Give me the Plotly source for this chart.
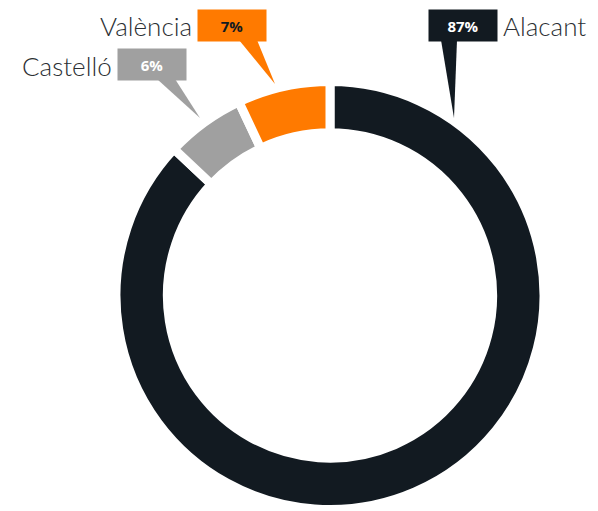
import plotly.graph_objects as go

categories = ["Alacant", "Castelló", "València"]
values = [87, 6, 7]
colors = ["#121a21", "#a0a0a0", "#ff7a00"]
pct_labels = ["87%", "6%", "7%"]
pct_text_colors = ["#ffffff", "#ffffff", "#121a21"]

W, H = 598, 511

def px(x):
    return x / W

def py(y):
    return 1 - y / H

fig = go.Figure()
fig.add_trace(go.Pie(
    labels=categories,
    values=values,
    sort=False,
    direction="clockwise",
    rotation=0,
    hole=0.76,
    marker=dict(colors=colors, line=dict(color="#ffffff", width=9)),
    textinfo="none",
    hoverinfo="label+percent",
    showlegend=False,
    domain=dict(x=[px(116), px(544)], y=[py(511), py(80)]),
))

# callout boxes: (box left, box top, pointer base x0, x1, tip x, tip y, name side)
callouts = [
    (429, 10, 441, 457, 454, 118, "right"),
    (118, 49, 157, 175, 200, 118, "left"),
    (198, 10, 239, 257, 275, 84, "left"),
]
bw, bh = 68, 31
annotations = []
shapes = []
for i, (bx, by, x0, x1, tx, ty, side) in enumerate(callouts):
    shapes.append(dict(
        type="path", xref="paper", yref="paper",
        path=f"M {px(x0)} {py(by + bh - 1)} L {px(x1)} {py(by + bh - 1)} L {px(tx)} {py(ty)} Z",
        fillcolor=colors[i], line=dict(width=0),
    ))
    annotations.append(dict(
        x=px(bx + bw / 2), y=py(by + bh / 2), xref="paper", yref="paper",
        text=pct_labels[i], showarrow=False,
        bgcolor=colors[i], width=bw, height=bh, borderpad=0,
        xanchor="center", yanchor="middle",
        font=dict(family="Open Sans", size=15, color=pct_text_colors[i], weight=700),
    ))
    if side == "right":
        annotations.append(dict(
            x=px(bx + bw + 4), y=py(by + bh / 2 + 1), xref="paper", yref="paper",
            text=categories[i], showarrow=False, xanchor="left", yanchor="middle",
            font=dict(family="Lato", size=26, color="#2b2f33", weight=300),
        ))
    else:
        annotations.append(dict(
            x=px(bx - 4), y=py(by + bh / 2 + 1), xref="paper", yref="paper",
            text=categories[i], showarrow=False, xanchor="right", yanchor="middle",
            font=dict(family="Lato", size=26, color="#2b2f33", weight=300),
        ))

fig.update_layout(
    width=W, height=H,
    margin=dict(l=0, r=0, t=0, b=0),
    paper_bgcolor="#ffffff",
    plot_bgcolor="#ffffff",
    annotations=annotations,
    shapes=shapes,
)

fig.write_html(
    "out.html",
    config={"displayModeBar": False},
    post_script="document.body.style.margin='0';document.body.style.overflow='hidden';",
)
